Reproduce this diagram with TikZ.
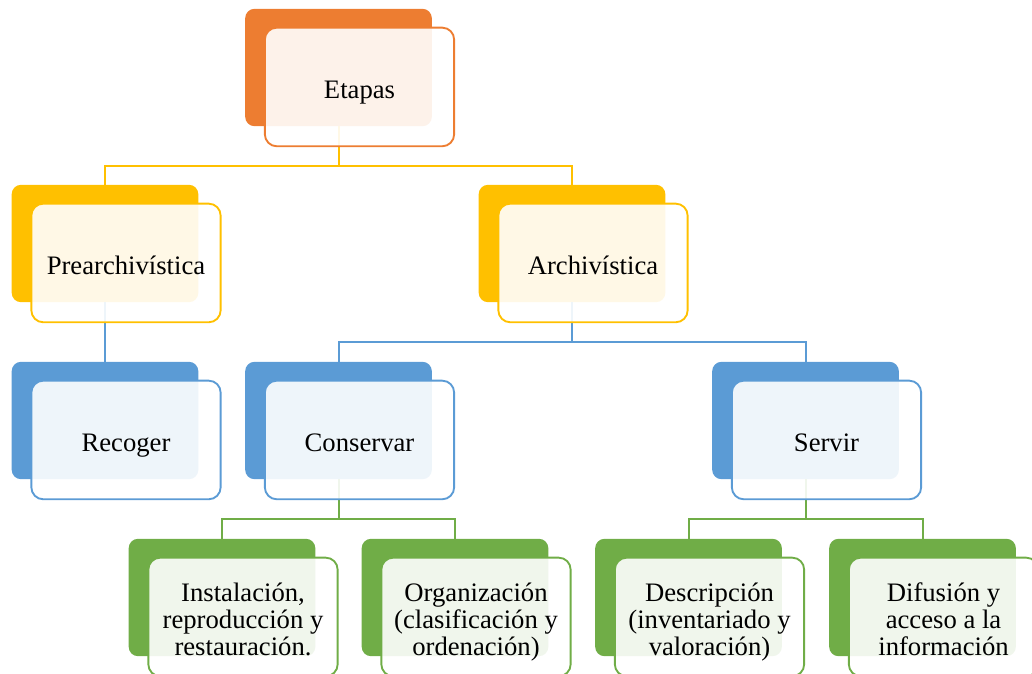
\documentclass[tikz,border=0pt]{standalone}
\usepackage{fontspec}
\setmainfont{Liberation Serif}

\definecolor{naranja}{HTML}{ED7D31}
\definecolor{amarillo}{HTML}{FFC000}
\definecolor{azul}{HTML}{5B9BD5}
\definecolor{verde}{HTML}{70AD47}

% letra de las tarjetas y puntal con la altura y profundidad de linea
\newcommand{\letra}{\fontsize{20}{20.3}\selectfont\lineskiplimit=-100pt\relax}
\newcommand{\puntal}{\rule[-0.216em]{0pt}{1.3em}}

\tikzset{
  fondo/.style={fill=#1, rounded corners=7pt, minimum width=140pt, minimum height=88pt},
  tarjeta/.style={draw=#1, line width=1.4pt, rounded corners=9pt, fill=white, fill opacity=0.9,
    text opacity=1, minimum width=142pt, minimum height=89pt, xshift=15.75pt, yshift=-14.6pt,
    align=center, font=\letra,
    execute at begin node=\puntal, execute at end node=\puntal},
  rama/.style={draw=#1, line width=1.5pt},
}

\begin{document}
\begin{tikzpicture}[x=0.75pt,y=-0.75pt]
\clip (0,0) rectangle (1032,674);

% bloques de fondo
\node[fondo=naranja] (etapas) at (338.5,67.5) {};
\node[fondo=amarillo] (pre) at (105,243.5) {};
\node[fondo=amarillo] (arch) at (572,243.5) {};
\node[fondo=azul] (recoger) at (105,420.5) {};
\node[fondo=azul] (conservar) at (338.5,420.5) {};
\node[fondo=azul] (servir) at (805.5,420.5) {};
\node[fondo=verde] (instalacion) at (222,597.5) {};
\node[fondo=verde] (organizacion) at (455,597.5) {};
\node[fondo=verde] (descripcion) at (688.5,597.5) {};
\node[fondo=verde] (difusion) at (922.5,597.5) {};

% ramas
\draw[rama=amarillo] (etapas) -- ++(0,98) -| (pre);
\draw[rama=amarillo] (etapas) -- ++(0,98) -| (arch);
\draw[rama=azul] (pre) -- (recoger);
\draw[rama=azul] (arch) -- ++(0,98) -| (conservar);
\draw[rama=azul] (arch) -- ++(0,98) -| (servir);
\draw[rama=verde] (conservar) -- ++(0,98) -| (instalacion);
\draw[rama=verde] (conservar) -- ++(0,98) -| (organizacion);
\draw[rama=verde] (servir) -- ++(0,98) -| (descripcion);
\draw[rama=verde] (servir) -- ++(0,98) -| (difusion);

% tarjetas con texto
\node[tarjeta=naranja] (etapasT) at (etapas) {Etapas};
\node[tarjeta=amarillo] (preT) at (pre) {Prearchivística};
\node[tarjeta=amarillo] (archT) at (arch) {Archivística};
\node[tarjeta=azul] (recogerT) at (recoger) {Recoger};
\node[tarjeta=azul] (conservarT) at (conservar) {Conservar};
\node[tarjeta=azul] (servirT) at (servir) {Servir};
\node[tarjeta=verde] (instalacionT) at (instalacion) {\puntal Instalación,\\reproducción y\\restauración.};
\node[tarjeta=verde] (organizacionT) at (organizacion) {\puntal Organización\\(clasificación y\\ordenación)};
\node[tarjeta=verde] (descripcionT) at (descripcion) {\puntal Descripción\\(inventariado y\\valoración)};
\node[tarjeta=verde] (difusionT) at (difusion) {\puntal Difusión y\\acceso a la\\información};

\end{tikzpicture}
\end{document}
